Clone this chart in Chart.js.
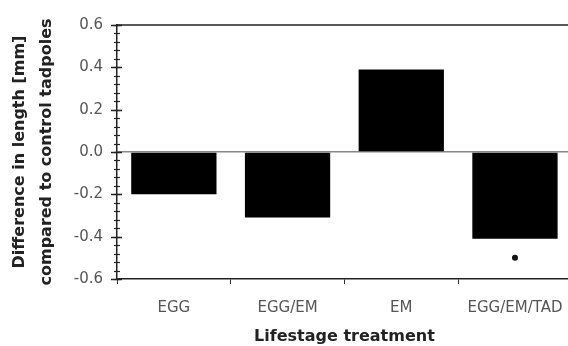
<!DOCTYPE html>
<html>
<head>
<meta charset="utf-8">
<script src="https://cdn.jsdelivr.net/npm/chart.js@4"></script>
<style>
  html, body { margin: 0; padding: 0; background: #fff; overflow: hidden; }
  #wrap { width: 578px; height: 346px; }
</style>
</head>
<body>
<div id="wrap"><canvas id="myChart"></canvas></div>
<script>
const categories = ["EGG", "EGG/EM", "EM", "EGG/EM/TAD"];
const lengthDiff = [-0.20, -0.31, 0.39, -0.41];
const signifMarks = [null, null, null, -0.50];
const yTicks = [-0.6, -0.4, -0.2, 0.0, 0.2, 0.4, 0.6];
const yMinorStep = 0.04;

const ctx = document.getElementById("myChart").getContext("2d");

// frame lines + y axis ticks (major crossing the axis, minor small)
const axisDeco = {
  id: "axisDeco",
  afterDraw(chart) {
    const c = chart.ctx;
    const a = chart.chartArea;
    const y = chart.scales.y;
    c.save();
    c.strokeStyle = "#222";
    c.lineWidth = 1.5;
    c.beginPath();
    c.moveTo(a.left, a.top);
    c.lineTo(a.right, a.top);
    c.stroke();
    c.lineWidth = 1.2;
    for (let v = -0.6; v <= 0.6001; v += yMinorStep) {
      const py = Math.round(y.getPixelForValue(v)) + 0.5;
      c.beginPath();
      c.moveTo(a.left - 3, py);
      c.lineTo(a.left + 3, py);
      c.stroke();
    }
    c.lineWidth = 1.5;
    yTicks.forEach(v => {
      const py = Math.round(y.getPixelForValue(v)) + 0.5;
      c.beginPath();
      c.moveTo(a.left - 6, py);
      c.lineTo(a.left + 5, py);
      c.stroke();
    });
    c.restore();
  }
};

new Chart(ctx, {
  type: "bar",
  data: {
    labels: categories,
    datasets: [
      {
        type: "line",
        data: signifMarks,
        showLine: false,
        pointRadius: 3,
        pointBackgroundColor: "#111",
        pointBorderWidth: 0
      },
      {
        data: lengthDiff,
        backgroundColor: "#000",
        borderWidth: 0,
        barPercentage: 0.75,
        categoryPercentage: 1.0
      }
    ]
  },
  options: {
    responsive: true,
    maintainAspectRatio: false,
    animation: false,
    layout: { padding: { top: 25, right: 0, left: 7, bottom: 0 } },
    plugins: { legend: { display: false }, tooltip: { enabled: false } },
    scales: {
      x: {
        grid: { display: true, drawOnChartArea: false, offset: true, tickLength: 5, color: "#333", lineWidth: 1 },
        border: { display: true, color: "#222", width: 1.5 },
        ticks: { color: "#555", font: { family: "DejaVu Sans", size: 15 }, padding: 15, maxRotation: 0, autoSkip: false },
        title: {
          display: true,
          text: "Lifestage treatment",
          color: "#222",
          font: { family: "DejaVu Sans", size: 16, weight: "bold" },
          padding: { top: 6, bottom: 0 }
        },
        afterFit(scale) { scale.height = 67; }
      },
      y: {
        min: -0.6,
        max: 0.6,
        afterBuildTicks(scale) { scale.ticks = yTicks.map(v => ({ value: v })); },
        grid: {
          drawTicks: false,
          color: c => (c.tick && c.tick.value === 0 ? "#888" : "transparent"),
          lineWidth: 1.5
        },
        border: { display: true, color: "#222", width: 1.5 },
        ticks: {
          color: "#555",
          font: { family: "DejaVu Sans", size: 15 },
          padding: 14,
          callback: v => v.toFixed(1)
        },
        title: {
          display: true,
          text: ["Difference in length [mm]", "compared to control tadpoles"],
          color: "#222",
          font: { family: "DejaVu Sans", size: 16, weight: "bold", lineHeight: 1.65 },
          padding: { top: 0, bottom: 0 }
        },
        afterFit(scale) { scale.width = 110; }
      }
    }
  },
  plugins: [axisDeco]
});
</script>
</body>
</html>
